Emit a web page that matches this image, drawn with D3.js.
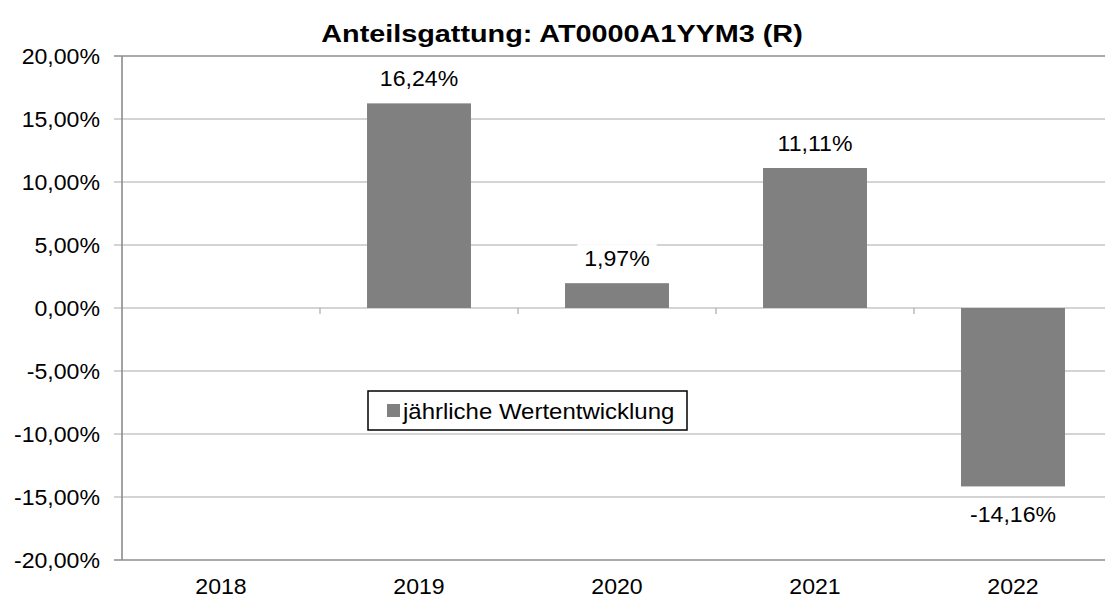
<!DOCTYPE html>
<html>
<head>
<meta charset="utf-8">
<script src="https://cdn.jsdelivr.net/npm/d3@7"></script>
<style>
  body { margin: 0; background: #fff; }
  svg { display: block; font-family: "Liberation Sans", Arial, sans-serif; }
</style>
</head>
<body>
<div id="chart"></div>
<script>
// daten
const years = ['2018', '2019', '2020', '2021', '2022'];
const values = [null, 16.24, 1.97, 11.11, -14.16];
const yTicks = [-20, -15, -10, -5, 0, 5, 10, 15, 20];
const titel = 'Anteilsgattung: AT0000A1YYM3 (R)';
const legendLabel = 'jährliche Wertentwicklung';

const width = 1105, height = 601;
const sx = 1.05; // leichte horizontale streckung wie im bild
const fs = 22;
const margin = { top: 56, left: 122, bottom: 41 };
const bandW = 198;
const barColor = '#808080';

const svg = d3.select('#chart').append('svg').attr('width', width).attr('height', height);

const x = d3.scaleBand().domain(years).range([margin.left, margin.left + bandW * years.length]).paddingInner(0.475).paddingOuter(0.2375);
const y = d3.scaleLinear().domain([-20, 20]).range([height - margin.bottom, margin.top]);

const fmt = v => d3.format('.2f')(v).replace('.', ',').replace('\u2212', '-') + '%';

// text helper mit horizontaler streckung
function txt(g, tx, ty, s, size, anchor, weight, scale) {
  const t = g.append('g').attr('transform', `translate(${tx},${ty}) scale(${scale || sx},1)`);
  return t.append('text').attr('text-anchor', anchor).attr('font-size', size)
    .attr('font-weight', weight || 'normal').attr('fill', '#000').text(s);
}

// gitterlinien
svg.append('g').selectAll('line').data(yTicks).join('line')
  .attr('x1', margin.left - 8).attr('x2', width)
  .attr('y1', d => y(d)).attr('y2', d => y(d))
  .attr('stroke', d => (d === 20 || d === -20) ? '#8c8c8c' : '#aaaaaa')
  .attr('stroke-width', d => (d === 20 || d === -20) ? 1.6 : 1.2);

// y-achse
svg.append('line').attr('x1', margin.left).attr('x2', margin.left)
  .attr('y1', y(20)).attr('y2', y(-20)).attr('stroke', '#8c8c8c').attr('stroke-width', 1.6);

// tick-striche auf der nulllinie
svg.append('g').selectAll('line').data(years.slice(1)).join('line')
  .attr('x1', d => x(d) - x.step() * x.paddingInner() / 2).attr('x2', d => x(d) - x.step() * x.paddingInner() / 2)
  .attr('y1', y(0)).attr('y2', y(0) + 6).attr('stroke', '#aaaaaa').attr('stroke-width', 1.2);

// y-beschriftung
yTicks.forEach(d => txt(svg, 100, y(d) + 7.5, fmt(d), fs, 'end'));

// x-beschriftung
years.forEach(d => txt(svg, x(d) + x.bandwidth() / 2, height - 7, d, fs, 'middle'));

// balken
const data = years.map((d, i) => ({ year: d, value: values[i] })).filter(d => d.value !== null);
svg.append('g').selectAll('rect').data(data).join('rect')
  .attr('x', d => x(d.year)).attr('width', x.bandwidth())
  .attr('y', d => y(Math.max(0, d.value))).attr('height', d => Math.abs(y(d.value) - y(0)))
  .attr('fill', barColor);

// werte-beschriftung mit weissem hintergrund
data.forEach(d => {
  const cx = x(d.year) + x.bandwidth() / 2;
  const base = d.value >= 0 ? y(d.value) - 17 : y(d.value) + 36;
  const s = fmt(d.value);
  const t = txt(svg, cx, base, s, fs, 'middle');
  const w = t.node().getComputedTextLength() * sx + 14;
  svg.insert('rect', () => t.node().parentNode)
    .attr('x', cx - w / 2).attr('y', base - 22).attr('width', w).attr('height', 30).attr('fill', '#fff');
});

// titel
txt(svg, 562, 42, titel, 24, 'middle', 'bold', 1.2);

// legende
const lg = svg.append('g');
lg.append('rect').attr('x', 368).attr('y', 391).attr('width', 319).attr('height', 39)
  .attr('fill', '#fff').attr('stroke', '#000').attr('stroke-width', 1.5);
lg.append('rect').attr('x', 387).attr('y', 404).attr('width', 13).attr('height', 13).attr('fill', barColor);
txt(lg, 403, 419, legendLabel, fs, 'start', 'normal', 1.09);
</script>
</body>
</html>
